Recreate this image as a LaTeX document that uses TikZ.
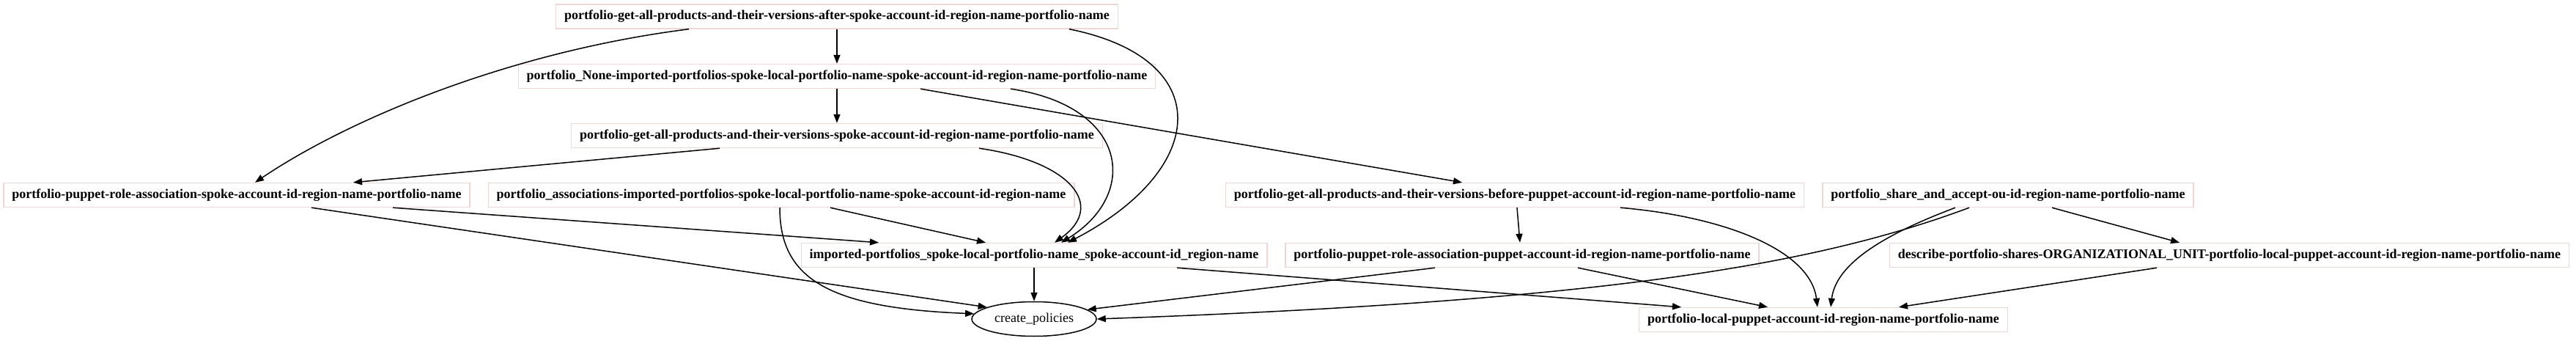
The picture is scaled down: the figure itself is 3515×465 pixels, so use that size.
\documentclass[tikz,border=0pt]{standalone}
\usepackage{fontspec}
\setmainfont{Liberation Serif}
\usetikzlibrary{shapes.geometric}
\usetikzlibrary{arrows.meta}
\definecolor{rim}{RGB}{236,214,214}

\begin{document}
\begin{tikzpicture}
	[x=1pt, y=-1pt, >={Triangle[length=12pt,width=9pt]},
	task/.style={rectangle, draw=rim, line width=1.4pt, minimum height=33pt, inner xsep=11.5pt, font=\fontsize{18}{20}\selectfont\bfseries},
	sink/.style={ellipse, draw, line width=1.5pt, minimum width=170pt, minimum height=47pt, inner sep=0pt, font=\fontsize{18}{20}\selectfont},
	link/.style={->, line width=1.5pt}]

\useasboundingbox (0,0) rectangle (3515,465);

\node [task] (after) at (1142,22.5) {portfolio-get-all-products-and-their-versions-after-spoke-account-id-region-name-portfolio-name};
\node [task] (none) at (1142,104) {portfolio\_None-imported-portfolios-spoke-local-portfolio-name-spoke-account-id-region-name-portfolio-name};
\node [task] (spokever) at (1142,185) {portfolio-get-all-products-and-their-versions-spoke-account-id-region-name-portfolio-name};
\node [task] (spokerole) at (323,266) {portfolio-puppet-role-association-spoke-account-id-region-name-portfolio-name};
\node [task] (assoc) at (1066,266) {portfolio\_associations-imported-portfolios-spoke-local-portfolio-name-spoke-account-id-region-name};
\node [task] (imported) at (1411,348) {imported-portfolios\_spoke-local-portfolio-name\_spoke-account-id\_region-name};
\node [sink] (policies) at (1411,435) {create\_policies};
\node [task] (before) at (2067,266) {portfolio-get-all-products-and-their-versions-before-puppet-account-id-region-name-portfolio-name};
\node [task] (share) at (2740,266) {portfolio\_share\_and\_accept-ou-id-region-name-portfolio-name};
\node [task] (puppetrole) at (2077,348) {portfolio-puppet-role-association-puppet-account-id-region-name-portfolio-name};
\node [task] (describe) at (3042,348) {describe-portfolio-shares-ORGANIZATIONAL\_UNIT-portfolio-local-puppet-account-id-region-name-portfolio-name};
\node [task] (local) at (2488,436) {portfolio-local-puppet-account-id-region-name-portfolio-name};

\draw [link] (after) -- (none);
\draw [link] ([xshift=-202pt]after.south) .. controls (700,70) and (480,160) .. ([xshift=25pt]spokerole.north);
\draw [link] ([xshift=317pt]after.south) .. controls (1660,80) and (1650,230) .. ([xshift=46pt]imported.north);
\draw [link] (none) -- (spokever);
\draw [link] ([xshift=237pt]none.south) .. controls (1540,145) and (1555,265) .. ([xshift=37pt]imported.north);
\draw [link] ([xshift=114pt]none.south) -- ([xshift=-72pt]before.north);
\draw [link] ([xshift=-160pt]spokever.south) -- ([xshift=159pt]spokerole.north);
\draw [link] ([xshift=194pt]spokever.south) .. controls (1460,220) and (1510,280) .. ([xshift=28pt]imported.north);
\draw [link] ([xshift=213pt]spokerole.south) -- ([xshift=-212pt]imported.north);
\draw [link] ([xshift=102pt]spokerole.south) -- (policies.166);
\draw [link] ([xshift=67pt]assoc.south) -- ([xshift=-66pt]imported.north);
\draw [link] ([xshift=-2pt]assoc.south) .. controls (1064,380) and (1130,420) .. (policies.175);
\draw [link] (imported) -- (policies);
\draw [link] ([xshift=195pt]imported.south) -- ([xshift=-194pt]local.north);
\draw [link] ([xshift=3pt]before.south) -- ([xshift=-3pt]puppetrole.north);
\draw [link] ([xshift=144pt]before.south) .. controls (2350,295) and (2470,340) .. ([xshift=-8pt]local.north);
\draw [link] ([xshift=-53pt]share.south) .. controls (2480,360) and (2200,410) .. (policies.east);
\draw [link] ([xshift=-72pt]share.south) .. controls (2570,320) and (2505,360) .. ([xshift=10pt]local.north);
\draw [link] ([xshift=60pt]share.south) -- ([xshift=-68pt]describe.north);
\draw [link] ([xshift=-119pt]puppetrole.south) -- (policies.10);
\draw [link] ([xshift=76pt]puppetrole.south) -- ([xshift=-76pt]local.north);
\draw [link] ([xshift=-99pt]describe.south) -- ([xshift=103pt]local.north);

\end{tikzpicture}
\end{document}
